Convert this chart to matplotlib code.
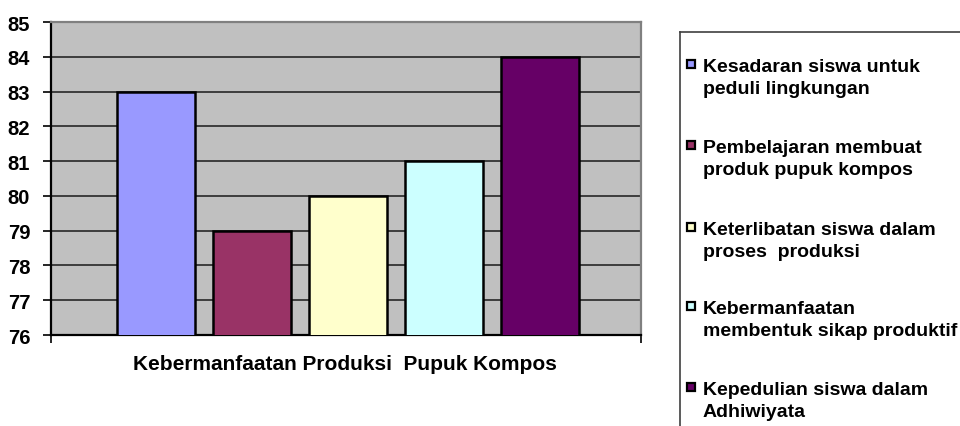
import matplotlib.pyplot as plt
from matplotlib.patches import Rectangle
from matplotlib.lines import Line2D

# data dari grafik
kategori = [
    "Kesadaran siswa untuk\npeduli lingkungan",
    "Pembelajaran membuat\nproduk pupuk kompos",
    "Keterlibatan siswa dalam\nproses  produksi",
    "Kebermanfaatan\nmembentuk sikap produktif",
    "Kepedulian siswa dalam\nAdhiwiyata",
]
nilai = [83, 79, 80, 81, 84]
warna = ["#9999FF", "#993366", "#FFFFCC", "#CCFFFF", "#660066"]
y_ticks = list(range(76, 86))
judul_x = "Kebermanfaatan Produksi  Pupuk Kompos"

plt.rcParams["font.family"] = ["Liberation Sans", "DejaVu Sans"]
plt.rcParams["font.weight"] = "bold"

W, H = 960, 427
fig = plt.figure(figsize=(W / 100, H / 100), dpi=100)
ax = fig.add_axes([51 / W, 1 - 336 / H, 590 / W, 313 / H])
ax.set_facecolor("#C0C0C0")

posisi = list(range(len(nilai)))
ax.bar(posisi, nilai, width=0.81, color=warna, edgecolor="black", linewidth=1.8, zorder=3)

ax.set_ylim(76, 85)
ax.set_yticks(y_ticks)
ax.set_yticklabels([str(t) for t in y_ticks], fontsize=14.5, fontweight="bold")
ax.yaxis.grid(True, color="#1a1a1a", linewidth=1.1, zorder=1)
ax.set_axisbelow(True)

xmin, xmax = -1.09, 5.05
ax.set_xlim(xmin, xmax)
ax.set_xticks([xmin, xmax])
ax.set_xticklabels(["", ""])
ax.tick_params(axis="both", direction="out", length=6, width=1.2, color="black")
ax.tick_params(axis="y", pad=9)

ax.spines["left"].set_color("black")
ax.spines["bottom"].set_color("black")
ax.spines["top"].set_color("#808080")
ax.spines["right"].set_color("#808080")
for s in ax.spines.values():
    s.set_linewidth(1.6)

fig.text(345 / W, 1 - 365 / H, judul_x, ha="center", va="center",
         fontsize=15, fontweight="bold")

# legenda manual
fig.add_artist(Line2D([680 / W, 1.0], [1 - 33 / H, 1 - 33 / H], color="#404040", linewidth=1.2))
fig.add_artist(Line2D([680 / W, 680 / W], [1 - 33 / H, 0.0], color="#404040", linewidth=1.2))
cap_atas = [57, 138, 220, 299, 380]
for teks, c, yc in zip(kategori, warna, cap_atas):
    fig.add_artist(Rectangle((687 / W, 1 - (yc + 12) / H), 8 / W, 8 / H,
                             facecolor=c, edgecolor="black", linewidth=1.6,
                             transform=fig.transFigure))
    fig.text(703 / W, 1 - (yc + 2) / H, teks, ha="left", va="top",
             fontsize=14, fontweight="bold", linespacing=1.4)

fig.savefig("out.png", dpi=100)
